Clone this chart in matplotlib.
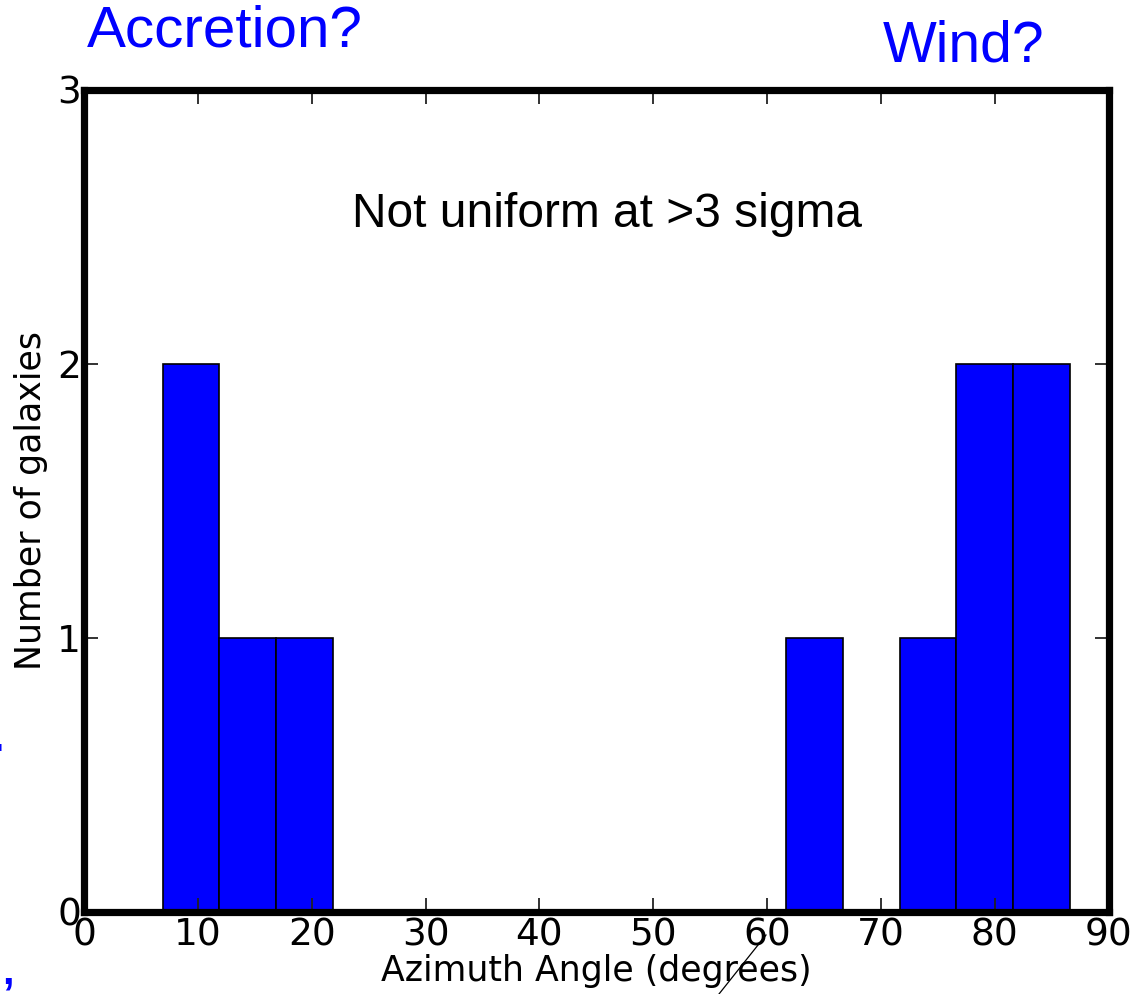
import numpy as np
import matplotlib.pyplot as plt
from matplotlib.lines import Line2D

# histogram of azimuth angles: 16 bins of equal width
bin_start = 6.9
bin_width = 4.98
counts = [2, 1, 1, 0, 0, 0, 0, 0, 0, 0, 0, 1, 0, 1, 2, 2]

xticks = [0, 10, 20, 30, 40, 50, 60, 70, 80, 90]
yticks = [0, 1, 2, 3]

left_edges = bin_start + bin_width * np.arange(len(counts))

fig = plt.figure(figsize=(11.43, 9.94), dpi=100)
ax = fig.add_axes([0.0735, 0.0825, 0.8965, 0.827])

ax.bar(left_edges, counts, width=bin_width, align='edge',
       color='#0000ff', edgecolor='black', linewidth=1.2, zorder=1)

ax.set_xlim(0, 90)
ax.set_ylim(0, 3)
ax.set_xticks(xticks)
ax.set_yticks(yticks)
ax.tick_params(direction='in', length=10, width=1.3, color='#222222',
               top=True, right=True, labelsize=27, pad=2)
ax.tick_params(axis='x', pad=4)
for sp in ax.spines.values():
    sp.set_linewidth(5.2)
    sp.set_zorder(3)
ax.set_axisbelow(False)

ax.set_xlabel('Azimuth Angle (degrees)', fontsize=25, labelpad=0)
ax.set_ylabel('Number of galaxies', fontsize=25, labelpad=7)

ax.text(0.51, 0.848, 'Not uniform at >3 sigma', transform=ax.transAxes,
        ha='center', va='center', fontsize=34.5, family='Liberation Sans')

fig.text(0.197, 0.968, 'Accretion?', ha='center', va='center',
         fontsize=42, color='#0000ff', family='Liberation Sans')
fig.text(0.843, 0.953, 'Wind?', ha='center', va='center',
         fontsize=41, color='#0000ff', family='Liberation Sans')

# cut-off characters along the left edge
fig.text(0.0025, 1 - 755 / 994, "'", ha='right', va='center',
         fontsize=18, color='#0000ff', family='Liberation Sans', weight='bold')
fig.text(0.012, 1 - 972 / 994, ',', ha='right', va='center',
         fontsize=30, color='#0000ff', family='Liberation Sans', weight='bold')

# stray pointer line
fig.add_artist(Line2D([766 / 1143, 719 / 1143], [1 - 935 / 994, 1 - 994 / 994],
                      color='black', linewidth=0.9, transform=fig.transFigure))

fig.savefig('out.png', dpi=100)
